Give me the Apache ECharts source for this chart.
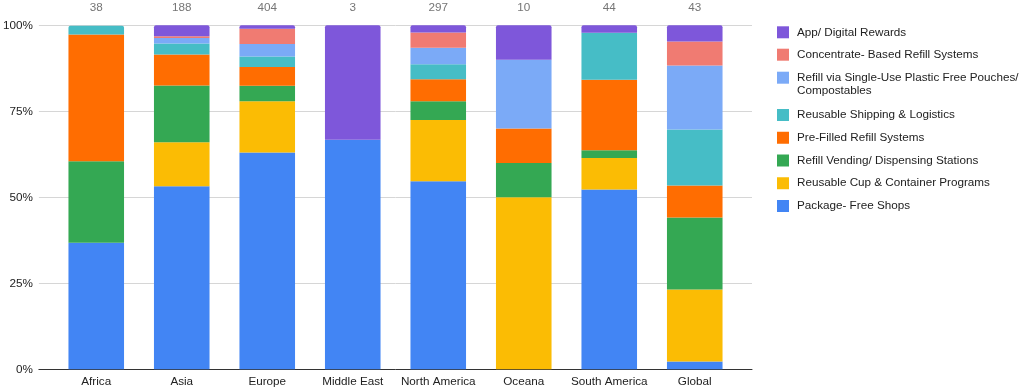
<!DOCTYPE html>
<html>
<head>
<meta charset="utf-8">
<script src="https://cdn.jsdelivr.net/npm/echarts@6/dist/echarts.min.js"></script>
<style>
  html, body { margin: 0; padding: 0; background: #fff; }
  #chart { width: 1021px; height: 390px; }
</style>
</head>
<body>
<div id="chart"></div>
<script>
var regions = ['Africa', 'Asia', 'Europe', 'Middle East', 'North America', 'Oceana', 'South America', 'Global'];
var counts = ['38', '188', '404', '3', '297', '10', '44', '43'];
var yTicks = ['0%', '25%', '50%', '75%', '100%'];

// shares in %, per region (stacked bottom -> top)
var packageFree   = [36.8, 53.2, 63.0, 66.7, 54.7, 0,    52.3, 2.3];
var reusableCup   = [0,    12.8, 14.9, 0,    17.8, 50.0, 9.1,  20.9];
var vending       = [23.7, 16.5, 4.5,  0,    5.4,  10.0, 2.3,  20.9];
var preFilled     = [36.8, 9.0,  5.5,  0,    6.4,  10.0, 20.5, 9.3];
var shipping      = [2.6,  3.2,  3.0,  0,    4.4,  0,    13.6, 16.3];
var pouches       = [0,    1.6,  3.7,  0,    4.8,  20.0, 0,    18.6];
var concentrate   = [0,    0.5,  4.4,  0,    4.4,  0,    0,    7.0];
var appRewards    = [0,    3.2,  1.0,  33.3, 2.1,  10.0, 2.2,  4.7];

var seriesNames = [
  'Package- Free Shops',
  'Reusable Cup & Container Programs',
  'Refill Vending/ Dispensing Stations',
  'Pre-Filled Refill Systems',
  'Reusable Shipping & Logistics',
  'Refill via Single-Use Plastic Free Pouches/ Compostables',
  'Concentrate- Based Refill Systems',
  'App/ Digital Rewards'
];
var seriesData = [packageFree, reusableCup, vending, preFilled, shipping, pouches, concentrate, appRewards];
var colors = ['#4285F4', '#FBBC04', '#34A853', '#FF6D01', '#46BDC6', '#7BAAF7', '#F07B72', '#7E57DA'];

var font = 'Arial, "Liberation Sans", sans-serif';
var fs = 11.7;
var chart = echarts.init(document.getElementById('chart'), null, { renderer: 'canvas' });

// round the top of the topmost non-empty segment in each bar
function isTop(i, j) {
  for (var k = i + 1; k < seriesData.length; k++) {
    if (seriesData[k][j] > 0) return false;
  }
  return seriesData[i][j] > 0;
}

var series = seriesNames.map(function (name, i) {
  return {
    name: name,
    type: 'bar',
    stack: 'total',
    xAxisIndex: 1,
    yAxisIndex: 1,
    barCategoryGap: '35%',
    itemStyle: { color: colors[i] },
    emphasis: { disabled: true },
    data: seriesData[i].map(function (v, j) {
      return isTop(i, j) ? { value: v, itemStyle: { borderRadius: [2, 2, 0, 0] } } : v;
    })
  };
});

var legendBase = {
  orient: 'vertical',
  left: 777,
  padding: 0,
  itemWidth: 12,
  itemHeight: 12,
  icon: 'rect',
  selectedMode: false,
  textStyle: { fontFamily: font, fontSize: fs, color: '#222', padding: [0, 0, 0, 3] }
};

chart.setOption({
  animation: false,
  color: colors,
  grid: [
    { left: 38, right: 269, top: 25.3, bottom: 20.7 },
    { left: 53.5, right: 283.5, top: 25.3, bottom: 20.7 }
  ],
  legend: [
    Object.assign({}, legendBase, {
      top: 26.3, itemGap: 10.4,
      data: ['App/ Digital Rewards', 'Concentrate- Based Refill Systems']
    }),
    Object.assign({}, legendBase, {
      top: 58.7,
      formatter: function () {
        return '{a| }\n{a|Refill via Single-Use Plastic Free Pouches/}\n{a|Compostables}';
      },
      textStyle: {
        fontFamily: font, fontSize: fs, color: '#222', padding: [0, 0, 0, 3],
        rich: { a: { fontFamily: font, fontSize: fs, color: '#222', lineHeight: 13 } }
      },
      data: ['Refill via Single-Use Plastic Free Pouches/ Compostables']
    }),
    Object.assign({}, legendBase, {
      top: 109, itemGap: 10.75,
      data: ['Reusable Shipping & Logistics', 'Pre-Filled Refill Systems',
             'Refill Vending/ Dispensing Stations', 'Reusable Cup & Container Programs',
             'Package- Free Shops']
    })
  ],
  xAxis: [
    {
      type: 'value', gridIndex: 0, min: 0, max: 1,
      axisLine: { show: true, lineStyle: { color: '#333', width: 1 } },
      axisTick: { show: false }, axisLabel: { show: false }, splitLine: { show: false }
    },
    {
      type: 'category', gridIndex: 1, data: regions,
      axisLine: { show: false }, axisTick: { show: false },
      axisLabel: { fontFamily: font, fontSize: fs, color: '#222', margin: 6.5, interval: 0 }
    },
    {
      type: 'category', gridIndex: 1, position: 'top', data: regions,
      axisLine: { show: false }, axisTick: { show: false },
      axisLabel: {
        fontFamily: font, fontSize: fs, color: '#757575', margin: 11.8, interval: 0,
        formatter: function (v, idx) { return counts[idx]; }
      }
    }
  ],
  yAxis: [
    {
      type: 'value', gridIndex: 0, min: 0, max: 100, interval: 25,
      axisLine: { show: false }, axisTick: { show: false },
      axisLabel: {
        fontFamily: font, fontSize: fs, color: '#222', margin: 6,
        formatter: function (v) { return yTicks[Math.round(v / 25)]; }
      },
      splitLine: { lineStyle: { color: '#d6d6d6', width: 1 } }
    },
    {
      type: 'value', gridIndex: 1, min: 0, max: 100, show: false
    }
  ],
  series: series
});
</script>
</body>
</html>
